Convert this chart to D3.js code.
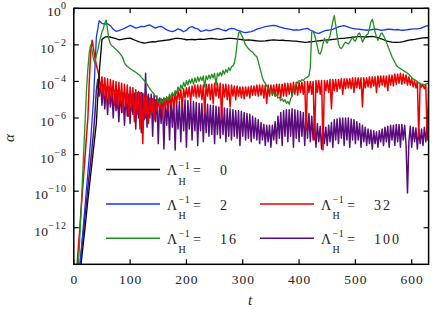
<!DOCTYPE html>
<html>
<head>
<meta charset="utf-8">
<script src="https://cdn.jsdelivr.net/npm/d3@7"></script>
<style>
  body { margin: 0; background: #fff; }
</style>
</head>
<body>
<div id="chart"></div>
<script>
// valeurs = log10(alpha), sur une grille de temps reguliere
const dtSlow = 5;    // noir, bleu
const dtFast = 2.5;  // vert, rouge, violet

const alphaL0 = [
  -17.6, -16.2, -14.8, -13.4, -12.0, -10.5, -9.1, -7.7, -6.3, -3.6,
  -1.7, -1.58, -1.55, -1.57, -1.62, -1.66, -1.72, -1.7, -1.67, -1.64,
  -1.63, -1.7, -1.76, -1.82, -1.87, -1.9, -1.88, -1.85, -1.83, -1.84,
  -1.8, -1.78, -1.76, -1.74, -1.72, -1.68, -1.65, -1.64, -1.66, -1.69,
  -1.72, -1.71, -1.7, -1.72, -1.7, -1.69, -1.7, -1.68, -1.66, -1.65,
  -1.67, -1.69, -1.7, -1.68, -1.66, -1.64, -1.65, -1.66, -1.68, -1.7,
  -1.72, -1.74, -1.73, -1.74, -1.76, -1.78, -1.8, -1.79, -1.78, -1.76,
  -1.74, -1.73, -1.74, -1.75, -1.74, -1.76, -1.77, -1.78, -1.79, -1.8,
  -1.82, -1.84, -1.86, -1.85, -1.83, -1.82, -1.8, -1.78, -1.76, -1.75,
  -1.73, -1.72, -1.7, -1.68, -1.66, -1.65, -1.64, -1.62, -1.6, -1.58,
  -1.56, -1.55, -1.55, -1.56, -1.57, -1.55, -1.54, -1.56, -1.6, -1.66,
  -1.72, -1.78, -1.82, -1.85, -1.86, -1.86, -1.85, -1.82, -1.78, -1.74,
  -1.72, -1.7, -1.67, -1.64, -1.62, -1.61, -1.6
];

const alphaL2 = [
  -18.0, -16.2, -14.4, -12.6, -10.8, -9.0, -7.2, -5.0, -1.6, -0.68,
  -0.82, -0.86, -0.84, -0.95, -1.15, -1.26, -1.22, -1.16, -1.1, -1.02,
  -0.93, -1.0, -1.08, -1.04, -0.99, -1.0, -0.95, -0.91, -1.0, -1.08,
  -1.02, -0.99, -1.08, -1.18, -1.24, -1.28, -1.22, -1.12, -1.18, -1.28,
  -1.2, -1.05, -1.0, -1.08, -1.12, -1.26, -1.24, -1.18, -1.22, -1.2,
  -1.15, -1.1, -1.14, -1.2, -1.24, -1.14, -1.1, -1.12, -1.2, -1.24,
  -1.3, -1.33, -1.3, -1.28, -1.22, -1.14, -1.1, -1.05, -1.0, -0.98,
  -0.95, -0.94, -0.96, -1.02, -1.06, -1.1, -1.12, -1.15, -1.2, -1.18,
  -1.19, -1.15, -1.12, -1.1, -1.2, -1.26, -1.34, -1.37, -1.3, -1.24,
  -1.2, -1.18, -1.14, -1.08, -1.02, -0.98, -0.95, -1.0, -1.06, -1.1,
  -1.12, -1.14, -1.16, -1.18, -1.2, -1.19, -1.16, -1.14, -1.16, -1.2,
  -1.19, -1.16, -1.14, -1.16, -1.18, -1.16, -1.19, -1.2, -1.18, -1.16,
  -1.14, -1.12, -1.12, -1.1, -1.04, -0.98, -0.95
];

const alphaL16 = [
  -19.5, -17.7, -16.0, -14.5, -13.0, -11.3, -9.6, -7.9, -6.2, -4.5,
  -3.3, -2.4, -2.0, -2.3, -2.8, -3.0, -2.6, -2.3, -1.9, -1.6,
  -1.3, -1.1, -0.8, -0.64, -1.2, -1.7, -1.95, -2.05, -2.1, -2.18,
  -2.25, -2.32, -2.4, -2.5, -2.6, -2.75, -3.0, -3.1, -3.18, -3.24,
  -3.3, -3.35, -3.4, -3.45, -3.5, -3.55, -3.62, -3.68, -3.78, -3.86,
  -3.95, -4.05, -4.15, -4.28, -4.4, -4.5, -4.6, -4.7, -4.8, -4.9,
  -5.0, -5.25, -4.95, -5.2, -4.9, -5.1, -4.85, -5.0, -4.7, -4.9,
  -4.6, -4.8, -4.5, -4.65, -4.3, -4.5, -4.2, -4.4, -4.05, -4.3,
  -3.95, -4.2, -3.9, -4.1, -3.85, -4.15, -3.8, -4.05, -3.75, -4.0,
  -3.75, -3.95, -3.7, -4.3, -3.7, -3.9, -3.65, -3.85, -3.6, -3.8,
  -3.55, -4.2, -3.55, -3.7, -3.5, -3.7, -3.4, -3.6, -3.35, -3.5,
  -3.25, -3.4, -3.2, -3.15, -3.0, -2.6, -1.9, -1.35, -1.28, -1.45,
  -1.6, -1.8, -2.0, -2.1, -2.2, -2.28, -2.35, -2.4, -2.5, -2.58,
  -2.65, -2.9, -3.2, -3.5, -3.8, -4.0, -4.1, -4.25, -4.35, -4.45,
  -4.5, -4.7, -4.6, -4.8, -4.7, -4.9, -4.85, -5.05, -4.95, -5.1,
  -5.0, -5.2, -5.1, -5.25, -4.95, -4.8, -4.5, -4.3, -4.15, -4.05,
  -3.95, -4.0, -3.9, -3.95, -3.85, -3.8, -3.75, -3.7, -3.2, -1.3,
  -1.25, -1.45, -1.75, -2.1, -2.45, -2.5, -2.3, -1.95, -1.65, -1.8,
  -1.9, -1.7, -1.5, -1.1, -0.7, -0.4, -0.9, -1.5, -1.95, -2.15,
  -2.2, -2.1, -1.95, -1.85, -1.9, -1.95, -1.85, -1.7, -1.6, -1.75,
  -1.8, -1.6, -1.4, -1.35, -1.6, -1.85, -1.7, -1.55, -1.45, -1.4,
  -1.1, -0.75, -0.6, -0.9, -1.3, -1.55, -1.75, -1.6, -1.4, -1.35,
  -1.5, -1.65, -1.85, -2.05, -2.25, -2.45, -2.65, -2.8, -2.95, -3.1,
  -3.2, -3.25, -3.3, -3.35, -3.4, -3.45, -3.5, -3.55, -3.62, -3.7,
  -3.78, -3.85, -3.9, -3.95, -4.02, -4.08, -4.12, -4.15, -4.17, -4.18,
  -4.15, -4.12, -4.1
];

const alphaL32 = [
  -16.5, -15.4, -14.4, -13.3, -12.3, -11.2, -10.2, -9.1, -8.1, -7.0,
  -6.0, -4.0, -2.4, -1.75, -2.2, -2.7, -3.1, -3.4, -3.7, -4.5,
  -3.75, -4.9, -3.8, -5.0, -3.85, -5.2, -3.9, -4.9, -3.95, -5.3,
  -4.0, -5.5, -4.05, -5.2, -4.1, -5.7, -4.15, -5.4, -4.2, -5.9,
  -4.3, -5.6, -4.35, -6.2, -4.45, -5.8, -4.55, -6.6, -4.6, -7.4,
  -4.7, -6.0, -4.8, -6.3, -4.9, -5.8, -4.95, -6.1, -5.0, -5.6,
  -5.0, -5.5, -4.95, -5.9, -4.9, -5.4, -4.85, -5.6, -4.8, -5.3,
  -4.7, -5.5, -4.6, -5.2, -4.5, -5.0, -4.45, -5.4, -4.4, -4.9,
  -4.35, -4.85, -4.3, -5.1, -4.25, -4.8, -4.2, -4.9, -4.2, -4.85,
  -4.2, -5.0, -4.2, -5.75, -4.15, -4.8, -4.15, -5.0, -4.15, -5.2,
  -4.1, -4.8, -4.1, -4.9, -4.1, -6.1, -4.15, -4.85, -4.15, -5.0,
  -4.2, -5.4, -4.2, -4.8, -4.25, -5.0, -4.25, -4.8, -4.3, -4.9,
  -4.3, -4.95, -4.3, -4.8, -4.3, -4.9, -4.25, -4.75, -4.25, -4.75,
  -4.2, -4.8, -4.2, -4.75, -4.2, -4.9, -4.2, -5.2, -4.2, -4.8,
  -4.2, -4.75, -4.2, -4.8, -4.15, -4.75, -4.15, -4.9, -4.15, -4.8,
  -4.1, -4.8, -4.1, -4.7, -4.1, -4.8, -4.05, -4.7, -4.05, -4.75,
  -4.05, -4.6, -4.05, -4.7, -4.0, -6.65, -4.0, -4.6, -4.0, -4.7,
  -4.0, -7.2, -3.95, -4.6, -3.95, -4.7, -3.95, -7.75, -3.95, -4.5,
  -3.95, -4.6, -3.9, -5.5, -3.9, -4.5, -3.9, -4.55, -3.9, -4.4,
  -3.85, -4.7, -3.85, -4.4, -3.85, -4.35, -3.85, -4.4, -3.8, -4.6,
  -3.8, -4.35, -3.8, -4.4, -3.8, -5.4, -3.8, -4.35, -3.8, -4.3,
  -3.75, -4.35, -3.75, -4.25, -3.75, -4.6, -3.7, -4.3, -3.7, -4.2,
  -3.7, -4.3, -3.7, -4.5, -3.65, -4.2, -3.65, -4.25, -3.6, -4.15,
  -3.6, -4.1, -3.55, -4.15, -3.6, -4.1, -3.65, -4.2, -3.75, -4.2,
  -3.85, -4.3, -3.95, -4.35, -4.0, -7.0, -4.1, -4.3, -4.15, -4.4,
  -4.2, -7.2, -4.3
];

const alphaL100 = [
  -17.3, -16.6, -15.8, -15.1, -14.3, -13.6, -12.8, -12.1, -11.3, -10.6,
  -9.8, -9.1, -8.3, -7.6, -6.8, -5.8, -4.5, -3.9, -4.8, -4.1,
  -5.3, -4.2, -5.5, -4.3, -5.8, -4.3, -5.4, -4.4, -6.0, -4.5,
  -5.6, -4.5, -6.2, -4.6, -5.7, -4.6, -6.4, -4.7, -5.9, -4.7,
  -6.3, -4.7, -5.8, -4.65, -6.6, -4.6, -6.0, -4.6, -6.8, -4.65,
  -6.1, -3.55, -6.5, -4.7, -6.0, -4.7, -7.0, -4.75, -6.2, -4.8,
  -7.4, -4.9, -6.3, -5.0, -7.7, -4.95, -6.4, -5.0, -7.2, -5.0,
  -6.5, -5.05, -7.75, -5.1, -6.6, -5.1, -7.3, -5.0, -6.7, -5.0,
  -7.6, -5.05, -6.6, -5.1, -7.2, -5.1, -6.7, -5.15, -7.5, -5.2,
  -6.7, -5.2, -7.3, -5.25, -6.8, -5.25, -7.0, -5.3, -6.9, -5.3,
  -7.4, -5.35, -6.9, -5.4, -7.1, -5.4, -6.9, -5.45, -7.3, -5.5,
  -7.0, -5.5, -7.2, -5.55, -7.0, -5.6, -7.1, -5.6, -7.5, -5.65,
  -7.0, -5.7, -7.2, -5.75, -7.1, -5.8, -7.3, -5.9, -7.1, -6.0,
  -7.2, -6.1, -7.4, -6.25, -7.2, -6.35, -7.5, -6.4, -7.3, -6.4,
  -7.6, -6.4, -7.2, -6.2, -7.4, -5.9, -7.1, -5.7, -7.5, -5.6,
  -7.0, -5.55, -7.3, -5.55, -7.0, -5.5, -7.6, -5.55, -7.1, -5.6,
  -7.3, -5.65, -7.0, -5.7, -7.5, -5.7, -7.1, -5.75, -7.3, -5.9,
  -7.2, -6.1, -7.6, -6.3, -7.3, -6.45, -7.7, -6.5, -7.4, -6.5,
  -7.5, -6.4, -7.3, -6.25, -7.6, -6.1, -7.2, -6.05, -7.4, -6.0,
  -7.1, -6.0, -7.5, -6.0, -7.2, -6.0, -7.6, -6.05, -7.2, -6.1,
  -7.4, -6.2, -7.2, -6.3, -7.6, -6.4, -7.3, -6.5, -7.5, -6.6,
  -7.4, -6.65, -7.7, -6.7, -7.4, -6.75, -7.6, -6.7, -7.3, -6.6,
  -7.5, -6.5, -7.3, -6.45, -7.6, -6.4, -7.2, -6.4, -7.5, -6.35,
  -7.3, -6.35, -7.6, -6.35, -7.2, -6.4, -7.5, -10.1, -7.3, -6.45,
  -7.6, -6.5, -7.3, -6.55, -7.7, -6.6, -7.4, -6.6, -7.5, -6.5,
  -7.3, -6.4, -6.3
];

const xTicks = [0, 100, 200, 300, 400, 500, 600];
const yTickExps = [0, -2, -4, -6, -8, -10, -12];

// ordre de trace : violet en dessous, vert au dessus
const series = [
  { name: "100", vals: alphaL100, dt: dtFast, color: "#5a0c7c", w: 1.5 },
  { name: "32",  vals: alphaL32,  dt: dtFast, color: "#ee0000", w: 1.5 },
  { name: "0",   vals: alphaL0,   dt: dtSlow, color: "#000000", w: 1.3 },
  { name: "2",   vals: alphaL2,   dt: dtSlow, color: "#1435f0", w: 1.3 },
  { name: "16",  vals: alphaL16,  dt: dtFast, color: "#1f8f1f", w: 1.3 }
];

// legende : [valeur, colonne, ligne]
const legendItems = [["0", 0, 0], ["2", 0, 1], ["32", 1, 1], ["16", 0, 2], ["100", 1, 2]];

// ---- police serif : on prend la premiere vraiment installee
function pickFont(cands) {
  const ctx = document.createElement("canvas").getContext("2d");
  const probe = "Λ0123456789 mmmWWiil";
  const width = f => { ctx.font = "40px " + f; return ctx.measureText(probe).width; };
  const bases = ["monospace", "sans-serif"].map(width);
  for (const c of cands) {
    const w1 = width(`"${c}", monospace`), w2 = width(`"${c}", sans-serif`);
    if (w1 !== bases[0] || w2 !== bases[1]) return `"${c}"`;
  }
  return "serif";
}
const serif = pickFont(["Liberation Serif", "DejaVu Serif", "Noto Serif", "Tinos", "Times New Roman", "FreeSerif"]) + ", serif";

// ---- dimensions
const W = 436, H = 309;
const plot = { left: 73.8, right: 428.6, top: 8.3, bottom: 264.3 };

const svg = d3.select("#chart").append("svg")
  .attr("width", W).attr("height", H)
  .attr("font-family", serif);

const x = d3.scaleLinear().domain([0, 630]).range([plot.left, plot.right]);
const y = d3.scaleLog().domain([1e-14, 1]).range([plot.bottom, plot.top]);

svg.append("clipPath").attr("id", "clip")
  .append("rect")
  .attr("x", plot.left).attr("y", plot.top)
  .attr("width", plot.right - plot.left).attr("height", plot.bottom - plot.top);

const line = d3.line()
  .x(d => x(d[0]))
  .y(d => y(Math.pow(10, d[1])));

const courbes = svg.append("g").attr("clip-path", "url(#clip)");
series.forEach(s => {
  const pts = s.vals.map((v, i) => [i * s.dt, v]);
  courbes.append("path")
    .datum(pts)
    .attr("d", line)
    .attr("fill", "none")
    .attr("stroke", s.color)
    .attr("stroke-width", s.w)
    .attr("stroke-linejoin", "round");
});

// ---- axes (ticks vers l'interieur, sur les 4 cotes)
const tickLen = 5;
const axes = svg.append("g").attr("stroke", "#000").attr("stroke-width", 1.2);
xTicks.forEach(t => {
  axes.append("line").attr("x1", x(t)).attr("x2", x(t)).attr("y1", plot.bottom).attr("y2", plot.bottom - tickLen);
  axes.append("line").attr("x1", x(t)).attr("x2", x(t)).attr("y1", plot.top).attr("y2", plot.top + tickLen);
});
yTickExps.forEach(e => {
  const yy = y(Math.pow(10, e));
  axes.append("line").attr("x1", plot.left).attr("x2", plot.left + tickLen).attr("y1", yy).attr("y2", yy);
  axes.append("line").attr("x1", plot.right).attr("x2", plot.right - tickLen).attr("y1", yy).attr("y2", yy);
});
svg.append("rect")
  .attr("x", plot.left).attr("y", plot.top)
  .attr("width", plot.right - plot.left).attr("height", plot.bottom - plot.top)
  .attr("fill", "none").attr("stroke", "#000").attr("stroke-width", 1.5);

// labels x
svg.append("g").selectAll("text")
  .data(xTicks)
  .join("text")
    .attr("x", d => x(d) + 0.5)
    .attr("y", 283.5)
    .attr("text-anchor", "middle")
    .attr("font-family", serif)
    .attr("font-size", 13.5)
    .attr("fill", "#222")
    .attr("letter-spacing", 1)
    .text(d => d);

// labels y : 10^e
yTickExps.forEach(e => {
  const yy = y(Math.pow(10, e));
  const txt = svg.append("text")
    .attr("x", 67).attr("y", yy + 8)
    .attr("text-anchor", "end")
    .attr("font-family", serif)
    .attr("fill", "#222")
    .attr("font-size", 13.5);
  txt.append("tspan").attr("letter-spacing", 0.3).text("10");
  txt.append("tspan").attr("dy", -7).attr("font-size", 10).attr("letter-spacing", 1)
    .text(e === 0 ? "0" : "\u2212" + (-e));
});

// titres des axes
svg.append("text")
  .attr("x", 250).attr("y", 305)
  .attr("text-anchor", "middle")
  .attr("font-family", serif).attr("fill", "#222")
  .attr("font-size", 15).attr("font-style", "italic")
  .text("t");
svg.append("text")
  .attr("transform", "translate(9,138) rotate(-90)")
  .attr("text-anchor", "middle")
  .attr("dominant-baseline", "central")
  .attr("font-family", serif).attr("fill", "#222")
  .attr("font-size", 15).attr("font-style", "italic")
  .text("\u03b1");

// ---- legende
const colX = [106, 260], rowY = [169.5, 204, 238.3], lineLen = 54;
legendItems.forEach(([v, c, r]) => {
  const s = series.find(d => d.name === v);
  const x0 = colX[c], yy = rowY[r];
  const g = svg.append("g").attr("font-family", serif).attr("fill", "#222");
  g.append("line")
    .attr("x1", x0).attr("x2", x0 + lineLen).attr("y1", yy).attr("y2", yy)
    .attr("stroke", s.color).attr("stroke-width", 1.5);
  const tx = x0 + lineLen + 7;
  g.append("text").attr("x", tx).attr("y", yy + 5.5).attr("font-size", 14).text("\u039b");
  g.append("text").attr("x", tx + 11.5).attr("y", yy - 1).attr("font-size", 10)
    .attr("letter-spacing", 0.5).text("\u22121");
  g.append("text").attr("x", tx + 11.5).attr("y", yy + 15).attr("font-size", 10).text("H");
  g.append("text").attr("x", tx + 26).attr("y", yy + 5.5).attr("font-size", 14).text("=");
  g.append("text").attr("x", tx + 53).attr("y", yy + 5.5).attr("font-size", 14)
    .attr("letter-spacing", 2).text(v);
});
</script>
</body>
</html>
